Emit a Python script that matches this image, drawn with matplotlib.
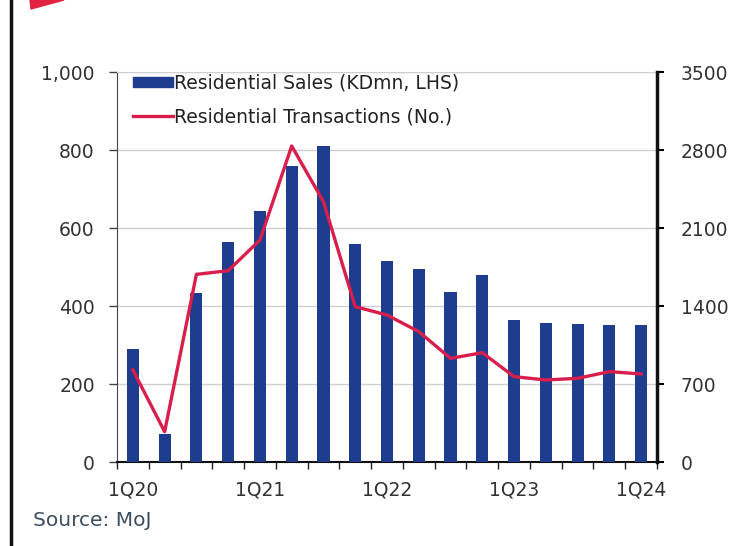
import numpy as np
import matplotlib.pyplot as plt
from matplotlib.patches import Polygon
from matplotlib.lines import Line2D

# quarterly data, 1Q20 .. 1Q24
quarters = ['1Q20', '2Q20', '3Q20', '4Q20', '1Q21', '2Q21', '3Q21', '4Q21', '1Q22',
            '2Q22', '3Q22', '4Q22', '1Q23', '2Q23', '3Q23', '4Q23', '1Q24']
sales = [290, 72, 433, 564, 644, 759, 810, 559, 516, 494, 435, 480, 363, 356, 353, 351, 351]
transactions = [826, 272, 1684, 1717, 1992, 2836, 2336, 1394, 1319, 1170, 930, 981,
                766, 736, 751, 811, 790]
shown_labels = ['1Q20', '1Q21', '1Q22', '1Q23', '1Q24']
left_ticks = [0, 200, 400, 600, 800, 1000]
right_ticks = [0, 700, 1400, 2100, 2800, 3500]

plt.rcParams['font.family'] = ['DejaVu Sans']
W, H = 738, 546
fig = plt.figure(figsize=(W/100, H/100), dpi=100)
ax = fig.add_axes([117/W, 1-462/H, (657-117)/W, 390/H])

x = np.arange(len(quarters))
bars = ax.bar(x, sales, width=0.38, color='#1e3d8f', zorder=3)
ax.set_xlim(-0.5, len(quarters)-0.5)
ax.set_ylim(0, 1000)
ax.set_yticks(left_ticks)
ax.set_yticklabels(['{:,}'.format(v) for v in left_ticks])
ax.yaxis.grid(True, color='#cfcfcf', lw=1)
ax.set_axisbelow(True)

pos = [quarters.index(q) for q in shown_labels]
ax.set_xticks(pos)
ax.set_xticklabels(shown_labels)
ax.set_xticks(np.arange(-0.5, len(quarters), 1), minor=True)
ax.tick_params(axis='x', which='major', length=0, pad=13, labelsize=13.5, labelcolor='#333333')
ax.tick_params(axis='x', which='minor', length=5, width=1, color='#222222')
ax.tick_params(axis='y', length=6, width=1, pad=10, labelsize=13.5, labelcolor='#333333', color='#444444')

ax.spines['top'].set_color('#cfcfcf')
ax.spines['left'].set_color('#444444')
ax.spines['bottom'].set_color('#111111')
ax.spines['bottom'].set_linewidth(1.5)
ax.spines['right'].set_visible(False)

ax2 = ax.twinx()
line, = ax2.plot(x, transactions, color='#d81f4c', lw=2.4, zorder=4)
ax2.set_ylim(0, 3500)
ax2.set_yticks(right_ticks)
ax2.tick_params(axis='y', length=5, width=1.5, pad=12, labelsize=13.5, labelcolor='#333333')
for s in ['top', 'left', 'bottom']:
    ax2.spines[s].set_visible(False)
ax2.spines['right'].set_linewidth(2.5)
ax2.spines['right'].set_color('#111111')

h_bar = plt.Rectangle((0, 0), 1, 1, color='#1e3d8f')
h_line = Line2D([], [], color='#d81f4c', lw=2.4)
ax2.legend([h_bar, h_line], ['Residential Sales (KDmn, LHS)', 'Residential Transactions (No.)'],
           loc='upper left', bbox_to_anchor=(0.03, 0.995), frameon=False, fontsize=13.5,
           handlelength=2.1, handleheight=0.45, handletextpad=0.1, labelspacing=0.75,
           borderpad=0, borderaxespad=0, labelcolor='#222222')

fig.text(33/W, 1-521/H, 'Source: MoJ', fontsize=14.5, color='#3c4e60', va='center')

# frame line and red marker at the top
fig.add_artist(Line2D([11/W, 11/W], [0, 1], color='#111111', lw=2.5))
fig.add_artist(Polygon([[30/W, 1], [64/W, 1], [31/W, 1-9/H]], closed=True,
                       color='#e0243f', transform=fig.transFigure))

fig.savefig('out.png', dpi=100)
